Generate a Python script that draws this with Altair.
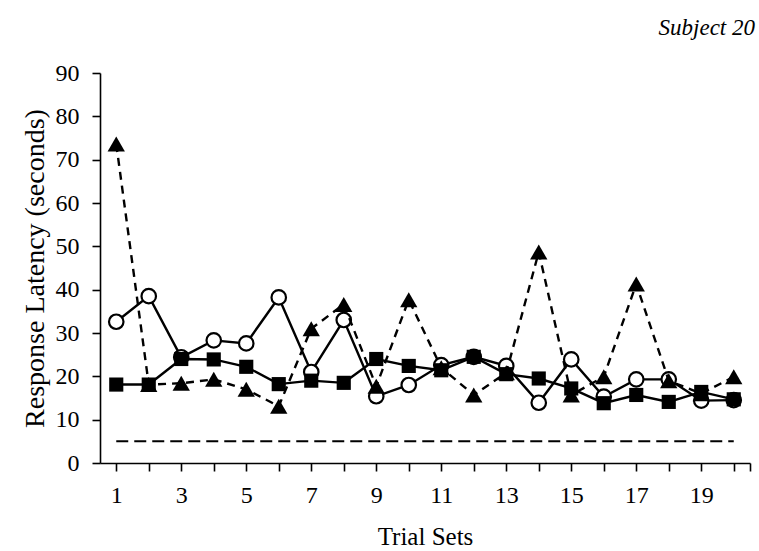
import altair as alt
import pandas as pd

trials = list(range(1, 21))
triangle_vals = [73.6, 18.1, 18.4, 19.3, 17.0, 13.1, 31.0, 36.6, 17.7, 37.7,
                 22.0, 15.7, 20.8, 48.7, 15.7, 19.9, 41.3, 19.0, 16.0, 19.9]
circle_vals = [32.6, 38.5, 24.4, 28.3, 27.6, 38.2, 21.0, 33.0, 15.4, 18.0,
               22.6, 24.5, 22.4, 13.9, 23.9, 15.3, 19.3, 19.3, 14.4, 14.5]
square_vals = [18.1, 18.1, 24.0, 23.9, 22.2, 18.2, 19.0, 18.5, 24.0, 22.4,
               21.4, 24.5, 20.5, 19.5, 17.2, 13.8, 15.7, 14.1, 16.4, 14.7]
criterion = 5
criterion_span = [1, 20]
y_ticks = list(range(0, 91, 10))
x_ticks = list(range(1, 21))

FONT = "Liberation Serif"

tri_df = pd.DataFrame({"trial": trials, "latency": triangle_vals})
cir_df = pd.DataFrame({"trial": trials, "latency": circle_vals})
sq_df = pd.DataFrame({"trial": trials, "latency": square_vals})
crit_df = pd.DataFrame({"trial": [criterion_span[0]], "trial2": [criterion_span[1]], "latency": [criterion]})

x_scale = alt.Scale(domain=[0.5, 20.5], nice=False, zero=False)
y_scale = alt.Scale(domain=[0, 90], nice=False)

x_axis = alt.Axis(
    values=x_ticks + [20.5], labelExpr="(datum.value % 2 == 1) ? datum.label : ''",
    title="Trial Sets", grid=False, tickSize=8, tickColor="black", domainColor="black",
    domainWidth=1.6, tickWidth=1.6, labelPadding=12, titlePadding=17,
    labelFont=FONT, labelFontSize=24, titleFont=FONT, titleFontSize=25,
    titleFontWeight="normal", labelColor="black", titleColor="black", labelFlush=False,
)
y_axis = alt.Axis(
    values=y_ticks, title="Response Latency (seconds)", grid=False, tickSize=8,
    tickColor="black", domainColor="black", domainWidth=1.6, tickWidth=1.6,
    labelPadding=13, titlePadding=6, labelFont=FONT, labelFontSize=24,
    titleFont=FONT, titleFontSize=28, titleFontWeight="normal",
    labelColor="black", titleColor="black", labelFlush=False,
)

X = alt.X("trial:Q", scale=x_scale, axis=x_axis)
Y = alt.Y("latency:Q", scale=y_scale, axis=y_axis)

crit = alt.Chart(crit_df).mark_rule(color="black", strokeWidth=2, strokeDash=[12, 6]).encode(
    x=X, x2="trial2:Q", y=Y,
)

cir_line = alt.Chart(cir_df).mark_line(color="black", strokeWidth=2.4).encode(x=X, y=Y)
cir_pts = alt.Chart(cir_df).mark_point(shape="circle", filled=True, fill="white",
                                       stroke="black", strokeWidth=2.2, size=210, opacity=1).encode(x=X, y=Y)
tri_line = alt.Chart(tri_df).mark_line(color="black", strokeWidth=2.4, strokeDash=[8, 6]).encode(x=X, y=Y)
tri_pts = alt.Chart(tri_df).mark_point(shape="triangle-up", filled=True, fill="black",
                                       size=300, opacity=1).encode(x=X, y=Y)
sq_line = alt.Chart(sq_df).mark_line(color="black", strokeWidth=2.4).encode(x=X, y=Y)
sq_pts = alt.Chart(sq_df).mark_point(shape="square", filled=True, fill="black",
                                     size=200, opacity=1).encode(x=X, y=Y)

label = alt.Chart(alt.Data(values=[{"t": "Subject 20"}])).mark_text(
    font=FONT, fontSize=23, fontStyle="italic", align="right", baseline="alphabetic", color="black"
).encode(text="t:N", x=alt.value(655), y=alt.value(-38))

chart = alt.layer(cir_line, crit, cir_pts, tri_line, tri_pts, sq_line, sq_pts, label).properties(
    width=650, height=390,
    background="white",
    autosize=alt.AutoSizeParams(type="none"),
    padding={"left": 100, "top": 73, "right": 9, "bottom": 88},
).configure_view(stroke=None)

chart.save("out.html", embed_options={"renderer": "svg", "actions": False})
